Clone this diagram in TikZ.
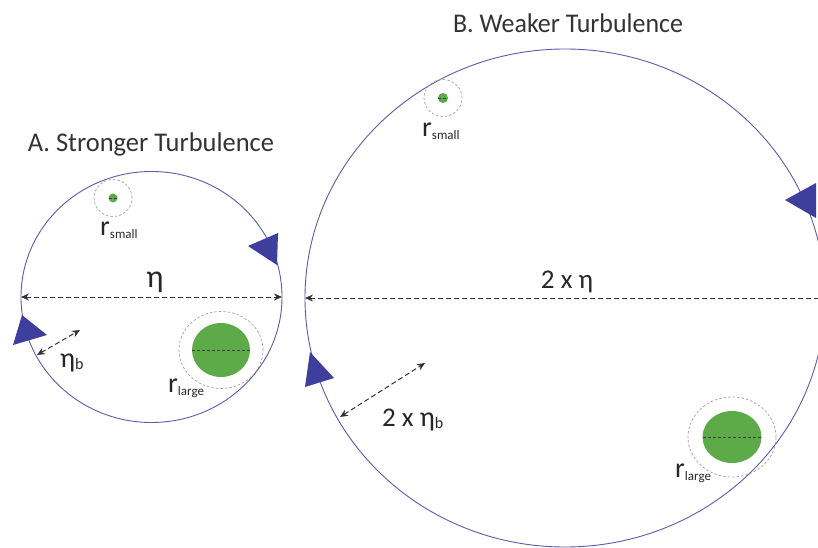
\documentclass[tikz,border=0pt]{standalone}
\usepackage{fontspec}
\setmainfont{Carlito}
\usetikzlibrary{arrows.meta, shapes.geometric}
\definecolor{cellblue}{HTML}{5B5BAA}
\definecolor{tipblue}{HTML}{3E3E9C}
\definecolor{graingreen}{HTML}{5DAA48}
\newcommand{\rsub}[1]{{\fontsize{28}{30}\selectfont r}\raisebox{-3pt}{\fontsize{13}{15}\selectfont #1}}
\newcommand{\etab}{{\fontsize{28}{30}\selectfont η}\raisebox{-2pt}{\fontsize{16}{18}\selectfont b}}
\tikzset{
  cell/.style  ={draw=cellblue, line width=0.9pt, ellipse, inner sep=0pt, outer sep=0pt},
  grain/.style ={fill=graingreen, ellipse, inner sep=0pt, outer sep=0pt},
  halo/.style  ={draw=gray!75, ellipse, inner sep=0pt, dash pattern=on 2.5pt off 2pt, line width=0.7pt},
  dim/.style   ={{Stealth[length=8pt,width=7pt]}-{Stealth[length=8pt,width=7pt]},
                 dash pattern=on 5pt off 3pt, line width=1pt, black!80},
  dimleft/.style={{Stealth[length=8pt,width=7pt]}-, dash pattern=on 5pt off 3pt, line width=1pt, black!80},
  cut/.style   ={dash pattern=on 3pt off 2pt, line width=0.8pt, black!75},
  spin/.style  ={fill=tipblue},
  heading/.style={font=\fontsize{27}{30}\selectfont, text=black!80, inner sep=0pt},
  lbl/.style   ={font=\fontsize{27}{30}\selectfont, text=black!85, inner sep=0pt},
}
\begin{document}
\begin{tikzpicture}[x=1pt, y=-1pt]
  \useasboundingbox (0,0) rectangle (818,548);
  % titles
  \node[heading, anchor=base, xscale=0.98] (titleA) at (151,152) {A. Stronger Turbulence};
  \node[heading, anchor=base, xscale=0.96] (titleB) at (568,33) {B. Weaker Turbulence};
  % eddies
  \node[cell, minimum width=261pt, minimum height=251pt] (cellA) at (151.5,297) {};
  \node[cell, minimum width=520pt, minimum height=498pt] (cellB) at (565,298) {};
  % direction marks
  \fill[spin] (278,233) -- (248,246) -- (277,265) -- cycle;
  \fill[spin] (22,315) -- (13,345) -- (47,335) -- cycle;
  \fill[spin] (310,352) -- (305,387) -- (334,378) -- cycle;
  \fill[spin] (816,183) -- (785,200) -- (816,218) -- cycle;
  % particles, A
  \node[halo, minimum width=38pt, minimum height=37pt] (haloSA) at (113,198) {};
  \node[grain, minimum size=9pt] (grainSA) at (113,198) {};
  \draw[cut, line width=0.5pt] (grainSA.west) -- (grainSA.east);
  \node[halo, minimum width=84pt, minimum height=77pt] (haloLA) at (221,350) {};
  \node[grain, minimum width=58pt, minimum height=54pt] (grainLA) at (221,350) {};
  \draw[cut] (grainLA.west) -- (grainLA.east);
  % particles, B
  \node[halo, minimum width=38pt, minimum height=37pt] (haloSB) at (443,98) {};
  \node[grain, minimum size=10pt] (grainSB) at (443,98) {};
  \draw[cut, line width=0.5pt] (grainSB.west) -- (grainSB.east);
  \node[halo, minimum width=88pt, minimum height=80pt] (haloLB) at (732,437) {};
  \node[grain, minimum width=59pt, minimum height=52pt] (grainLB) at (732,437) {};
  \draw[cut] (grainLB.west) -- (grainLB.east);
  % labels
  \node[lbl, anchor=base west] (rsA) at (100,235) {\rsub{small}};
  \node[lbl, anchor=base west] (rlA) at (168,392) {\rsub{large}};
  \node[lbl, anchor=base west] (rsB) at (422,137) {\rsub{small}};
  \node[lbl, anchor=base west] (rlB) at (675,477) {\rsub{large}};
  % scales
  \draw[dim] (cellA.west) -- (cellA.east);
  \node[lbl, anchor=base, font=\fontsize{32}{34}\selectfont] (etaA) at (155,287) {η};
  \coordinate (edgeB) at (818,298);
  \draw[dimleft] (cellB.west) -- (edgeB);
  \node[lbl, anchor=base] (etaB) at (567,288) {2 x η};
  \coordinate (ebA1) at (37,355);
  \coordinate (ebA2) at (80,330);
  \draw[dim] (ebA1) -- (ebA2);
  \node[lbl, anchor=base west] (etabA) at (60,367) {\etab};
  \coordinate (ebB1) at (340,417);
  \coordinate (ebB2) at (425,363);
  \draw[dim] (ebB1) -- (ebB2);
  \node[lbl, anchor=base west] (etabB) at (382,426) {2 x \etab};
\end{tikzpicture}
\end{document}
